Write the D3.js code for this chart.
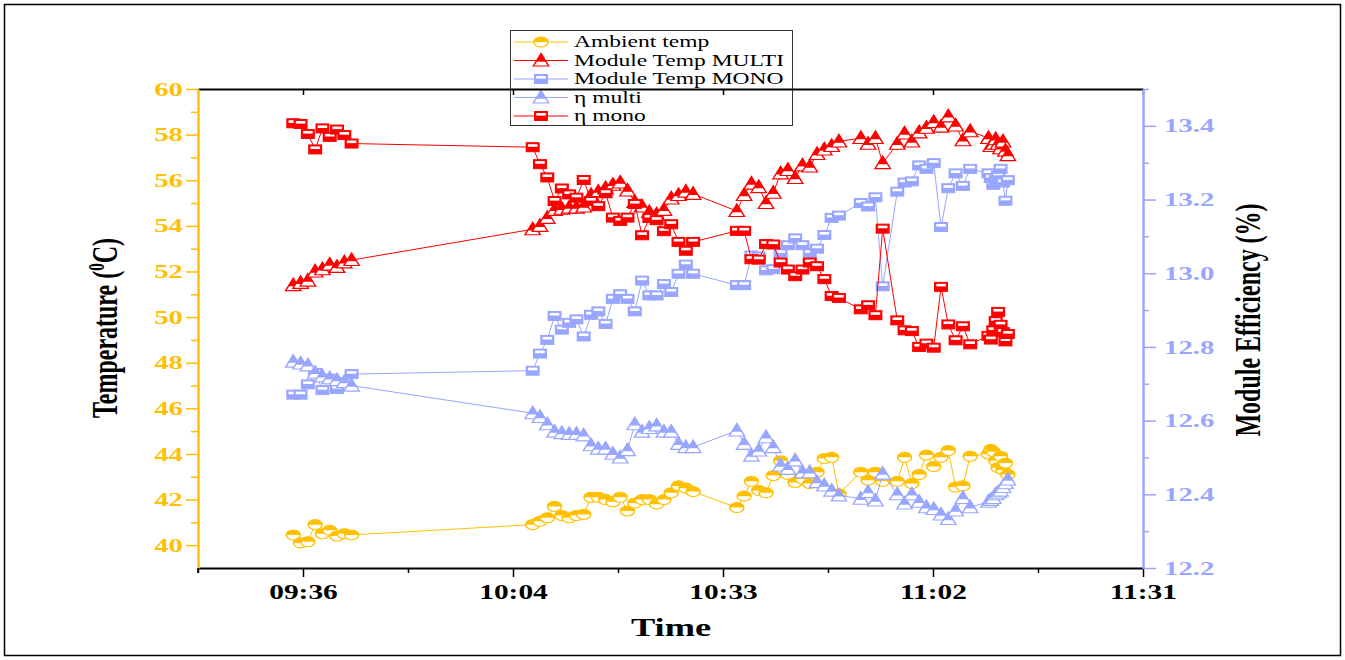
<!DOCTYPE html>
<html>
<head>
<meta charset="utf-8">
<script src="https://cdn.jsdelivr.net/npm/d3@7"></script>
<style>
  body { margin: 0; background: #fff; }
  svg { display: block; }
</style>
</head>
<body>
<div id="chart"></div>
<script>
// sample times (hh:mm:ss)
const times = [
  '09:34:40', '09:35:40', '09:36:40', '09:37:40', '09:38:40', '09:39:40', '09:40:40', '09:41:40', '09:42:40',
  '10:07:30', '10:08:30', '10:09:30', '10:10:30', '10:11:30', '10:12:30', '10:13:30', '10:14:30', '10:15:30',
  '10:16:30', '10:17:30', '10:18:30', '10:19:30', '10:20:30', '10:21:30', '10:22:30', '10:23:30', '10:24:30',
  '10:25:30', '10:26:30', '10:27:30', '10:28:30', '10:29:30',
  '10:35:30', '10:36:30', '10:37:30', '10:38:30', '10:39:30', '10:40:30', '10:41:30', '10:42:30', '10:43:30',
  '10:44:30', '10:45:30', '10:46:30', '10:47:30', '10:48:30', '10:49:30',
  '10:52:30', '10:53:30', '10:54:30', '10:55:30',
  '10:57:30', '10:58:30', '10:59:30', '11:00:30', '11:01:30', '11:02:30', '11:03:30', '11:04:30', '11:05:30',
  '11:06:30', '11:07:30',
  '11:10:00', '11:10:20', '11:10:40', '11:11:00', '11:11:20', '11:11:40', '11:12:00', '11:12:20', '11:12:40'
];

const ambientTemp = [
  40.45, 40.1, 40.15, 40.9, 40.5, 40.65, 40.4, 40.5, 40.45,
  40.9, 41.05, 41.2, 41.7, 41.3, 41.2, 41.3, 41.35, 42.1, 42.1, 42.0, 41.9, 42.1, 41.5, 41.85, 42.0, 42.0,
  41.8, 42.0, 42.3, 42.6, 42.5, 42.35,
  41.65, 42.15, 42.8, 42.4, 42.3, 43.05, 43.7, 43.1, 42.75, 42.9, 42.7, 43.2, 43.8, 43.85, 42.25,
  43.2, 42.85, 43.2, 42.8,
  42.8, 43.85, 42.7, 43.1, 43.95, 43.45, 43.85, 44.15, 42.55, 42.6, 43.9,
  44.0, 44.2, 44.1, 43.7, 43.4, 43.9, 43.3, 43.6, 43.1
];

const moduleTempMulti = [
  51.4, 51.5, 51.6, 52.0, 52.1, 52.3, 52.2, 52.4, 52.5,
  53.85, 54.0, 54.35, 54.7, 54.75, 54.8, 54.8, 54.85, 55.35, 55.5, 55.65, 55.8, 55.9, 55.55, 55.05, 54.85, 54.6,
  54.5, 54.7, 55.2, 55.35, 55.5, 55.4,
  54.65, 55.35, 55.85, 55.7, 55.0, 55.45, 56.3, 56.45, 56.1, 56.65, 56.6, 57.15, 57.35, 57.5, 57.7,
  57.85, 57.6, 57.85, 56.75,
  57.6, 58.05, 57.7, 58.1, 58.3, 58.55, 58.35, 58.8, 58.4, 57.75, 58.15,
  57.85, 57.5, 57.6, 57.8, 57.6, 57.4, 57.7, 57.3, 57.1
];

const moduleTempMono = [
  46.6, 46.6, 47.05, 47.55, 46.8, 47.3, 46.85, 47.15, 47.5,
  47.65, 48.4, 49.0, 50.05, 49.45, 49.75, 49.9, 49.15, 50.1, 50.25, 49.7, 50.8, 51.0, 50.8, 50.25, 51.6, 50.95,
  50.95, 51.45, 51.1, 51.9, 52.3, 51.9,
  51.4, 51.4, 52.7, 52.65, 52.05, 52.1, 52.8, 53.15, 53.45, 53.15, 52.8, 53.0, 53.6, 54.35, 54.45,
  55.0, 54.85, 55.25, 51.35,
  55.5, 55.9, 55.95, 56.65, 56.5, 56.75, 53.95, 55.65, 56.3, 55.75, 56.5,
  56.3, 56.1, 55.8, 56.0, 56.2, 56.5, 55.9, 55.1, 56.0
];

const etaMulti = [
  12.76, 12.755, 12.75, 12.73, 12.72, 12.715, 12.71, 12.705, 12.695,
  12.62, 12.61, 12.59, 12.57, 12.566, 12.564, 12.564, 12.56, 12.533, 12.524, 12.524, 12.51, 12.50, 12.52, 12.59,
  12.57, 12.58, 12.587, 12.57, 12.57, 12.537, 12.528, 12.528,
  12.573, 12.537, 12.505, 12.519, 12.555, 12.528, 12.478, 12.469, 12.492, 12.46, 12.46, 12.433, 12.424, 12.41, 12.397,
  12.388, 12.406, 12.383, 12.456,
  12.40, 12.375, 12.40, 12.38, 12.365, 12.36, 12.345, 12.333, 12.356, 12.39, 12.365,
  12.38, 12.385, 12.39, 12.40, 12.405, 12.41, 12.42, 12.43, 12.44
];

const etaMono = [
  13.407, 13.405, 13.378, 13.336, 13.393, 13.370, 13.390, 13.375, 13.352,
  13.342, 13.296, 13.26, 13.196, 13.23, 13.214, 13.205, 13.253, 13.196, 13.182, 13.217, 13.151, 13.142, 13.151,
  13.188, 13.103, 13.15, 13.144, 13.114, 13.133, 13.085, 13.061, 13.085,
  13.115, 13.115, 13.038, 13.037, 13.079, 13.078, 13.029, 13.01, 12.992, 13.01, 13.029, 13.019, 12.984, 12.938, 12.933,
  12.902, 12.913, 12.886, 13.121,
  12.872, 12.845, 12.843, 12.80, 12.809, 12.798, 12.963, 12.861, 12.818, 12.856, 12.807,
  12.83, 12.82, 12.845, 12.87, 12.895, 12.86, 12.84, 12.815, 12.835
];

// x axis ticks, in fractions of a day
const xTickDays = [0.40, 0.42, 0.44, 0.46, 0.48];
const xTickLabels = ['09:36', '10:04', '10:33', '11:02', '11:31'];
const xMinorDays = [0.39, 0.41, 0.43, 0.45, 0.47];
const leftTicks = [40, 42, 44, 46, 48, 50, 52, 54, 56, 58, 60];
const leftMinor = [41, 43, 45, 47, 49, 51, 53, 55, 57, 59];
const rightTicks = [12.2, 12.4, 12.6, 12.8, 13.0, 13.2, 13.4];
const rightMinor = [12.3, 12.5, 12.7, 12.9, 13.1, 13.3, 13.5];

const yellow = '#FFC000';
const blue = '#99A6FF';
const red = '#FF0000';
const fontFamily = '"Liberation Serif", "Times New Roman", serif';
const SX = 1.4; // the original figure is stretched sideways

const width = 1345;
const height = 660;
const plot = { left: 198, right: 1143, top: 89, bottom: 568 };

const toMinutes = s => {
  const [h, m, sec] = s.split(':').map(Number);
  return h * 60 + m + sec / 60;
};

const x = d3.scaleLinear()
  .domain([0.39 * 1440, 0.48 * 1440])
  .range([plot.left, plot.right]);
const yLeft = d3.scaleLinear().domain([39, 60]).range([plot.bottom, plot.top]);
const yRight = d3.scaleLinear().domain([12.2, 13.5]).range([plot.bottom, plot.top]);

const series = [
  { name: 'Ambient temp', values: ambientTemp, y: yLeft, color: yellow, marker: 'circle' },
  { name: 'Module Temp MULTI', values: moduleTempMulti, y: yLeft, color: red, marker: 'triangle' },
  { name: 'Module Temp MONO', values: moduleTempMono, y: yLeft, color: blue, marker: 'square' },
  { name: 'η multi', values: etaMulti, y: yRight, color: blue, marker: 'triangle' },
  { name: 'η mono', values: etaMono, y: yRight, color: red, marker: 'square' }
];

const svg = d3.select('#chart')
  .append('svg')
  .attr('width', width)
  .attr('height', height);

svg.append('rect')
  .attr('x', 4.5).attr('y', 4.5)
  .attr('width', width - 9).attr('height', height - 9)
  .attr('fill', 'none')
  .attr('stroke', '#000')
  .attr('stroke-width', 1.5);

// half filled markers, drawn in a local box then stretched
const drawMarker = (g, type, color) => {
  if (type === 'circle') {
    g.append('circle').attr('r', 5).attr('fill', '#fff');
    g.append('path').attr('d', 'M-5,0A5,5 0 0 1 5,0Z').attr('fill', color);
    g.append('circle').attr('r', 5).attr('fill', 'none')
      .attr('stroke', color).attr('stroke-width', 1.1);
  } else if (type === 'triangle') {
    g.append('path').attr('d', 'M0,-7L5.5,5.5L-5.5,5.5Z').attr('fill', '#fff')
      .attr('stroke', color).attr('stroke-width', 1.1).attr('stroke-linejoin', 'miter');
    g.append('path').attr('d', 'M0,-7L3.6,1.2L-3.6,1.2Z').attr('fill', color);
  } else {
    g.append('rect').attr('x', -4.5).attr('y', -4.5).attr('width', 9).attr('height', 9)
      .attr('fill', color).attr('stroke', color).attr('stroke-width', 1);
    g.append('rect').attr('x', -3.4).attr('y', -3).attr('width', 6.8).attr('height', 2.6)
      .attr('fill', '#fff');
  }
};

// legend
const legend = svg.append('g');
legend.append('rect')
  .attr('x', 510.5).attr('y', 30.5)
  .attr('width', 282).attr('height', 95)
  .attr('fill', 'none')
  .attr('stroke', '#333')
  .attr('stroke-width', 1);
const legendRowY = d3.scalePoint().domain(series.map(d => d.name)).range([42, 116]);
series.forEach(s => {
  const ly = legendRowY(s.name);
  legend.append('line')
    .attr('x1', 514).attr('x2', 568)
    .attr('y1', ly).attr('y2', ly)
    .attr('stroke', s.color).attr('stroke-width', 1);
  const mg = legend.append('g').attr('transform', `translate(541,${ly}) scale(${SX},1)`);
  drawMarker(mg, s.marker, s.color);
  legend.append('text')
    .attr('transform', `translate(574,${ly}) scale(1.47,1)`)
    .attr('dy', '0.34em')
    .style('font-family', fontFamily)
    .style('font-size', '16px')
    .text(s.name);
});

// axes
const xAxis = d3.axisBottom(x)
  .tickValues(xTickDays.map(d => d * 1440))
  .tickFormat((d, i) => xTickLabels[i])
  .tickSize(9)
  .tickSizeOuter(0);
const gx = svg.append('g').attr('transform', `translate(0,${plot.bottom})`).call(xAxis);
gx.select('.domain').attr('stroke', '#000').attr('stroke-width', 2);
gx.selectAll('.tick line').attr('stroke', '#000').attr('stroke-width', 1.5);
gx.selectAll('.tick text')
  .attr('y', 0)
  .attr('dy', 0)
  .attr('transform', `translate(0,31) scale(${SX},1)`)
  .attr('fill', '#000')
  .style('font-family', fontFamily)
  .style('font-size', '21px')
  .style('font-weight', 'bold');

svg.append('g')
  .attr('transform', `translate(0,${plot.bottom})`)
  .call(d3.axisBottom(x).tickValues(xMinorDays.map(d => d * 1440)).tickSize(5).tickFormat(''))
  .call(g => g.select('.domain').remove())
  .selectAll('.tick line').attr('stroke', '#000').attr('stroke-width', 1.5);

// top frame line with inward ticks
const gTop = svg.append('g').attr('transform', `translate(0,${plot.top})`)
  .call(d3.axisBottom(x).tickValues(xTickDays.map(d => d * 1440)).tickSize(6).tickSizeOuter(0).tickFormat(''));
gTop.select('.domain').attr('stroke', '#000').attr('stroke-width', 2);
gTop.selectAll('.tick line').attr('stroke', '#000').attr('stroke-width', 1.5);

const styleYAxis = (g, color, labelX, anchor) => {
  g.select('.domain').attr('stroke', color).attr('stroke-width', 2.5);
  g.selectAll('.tick line').attr('stroke', color).attr('stroke-width', 1.5);
  g.selectAll('.tick text')
    .attr('x', labelX / 1.6)
    .attr('dy', '0.34em')
    .attr('transform', 'scale(1.6,1)')
    .attr('text-anchor', anchor)
    .attr('fill', color)
    .style('font-family', fontFamily)
    .style('font-size', '18px')
    .style('font-weight', 'bold');
};

const gl = svg.append('g').attr('transform', `translate(${plot.left},0)`)
  .call(d3.axisLeft(yLeft).tickValues(leftTicks).tickSize(12).tickSizeOuter(0));
styleYAxis(gl, yellow, -15, 'end');
svg.append('g').attr('transform', `translate(${plot.left},0)`)
  .call(d3.axisLeft(yLeft).tickValues(leftMinor).tickSize(7).tickFormat(''))
  .call(g => g.select('.domain').remove())
  .selectAll('.tick line').attr('stroke', yellow).attr('stroke-width', 1.5);

const gr = svg.append('g').attr('transform', `translate(${plot.right},0)`)
  .call(d3.axisRight(yRight).tickValues(rightTicks).tickSize(13).tickSizeOuter(0)
    .tickFormat(d3.format('.1f')));
styleYAxis(gr, blue, 21, 'start');
svg.append('g').attr('transform', `translate(${plot.right},0)`)
  .call(d3.axisRight(yRight).tickValues(rightMinor).tickSize(6).tickFormat(''))
  .call(g => g.select('.domain').remove())
  .selectAll('.tick line').attr('stroke', blue).attr('stroke-width', 1.5);

// bottom-left corner tick
svg.append('line')
  .attr('x1', plot.left).attr('x2', plot.left)
  .attr('y1', plot.bottom).attr('y2', plot.bottom + 5)
  .attr('stroke', '#000').attr('stroke-width', 1.5);

// axis titles
svg.append('text')
  .attr('transform', `translate(671,636) scale(${SX},1)`)
  .attr('text-anchor', 'middle')
  .style('font-family', fontFamily)
  .style('font-size', '26px')
  .style('font-weight', 'bold')
  .text('Time');

const leftTitle = svg.append('text')
  .attr('transform', 'translate(117,328) scale(1.5,1) rotate(-90)')
  .attr('text-anchor', 'middle')
  .style('font-family', fontFamily)
  .style('font-size', '24px')
  .style('font-weight', 'bold');
leftTitle.append('tspan').text('Temperature (');
leftTitle.append('tspan').attr('dy', -9).style('font-size', '15px').text('0');
leftTitle.append('tspan').attr('dy', 9).text('C)');

svg.append('text')
  .attr('transform', 'translate(1260,320) scale(1.5,1) rotate(-90)')
  .attr('text-anchor', 'middle')
  .style('font-family', fontFamily)
  .style('font-size', '24px')
  .style('font-weight', 'bold')
  .text('Module Efficiency (%)');

// series
const points = series.map(s => s.values.map((v, i) => ({ t: toMinutes(times[i]), v })));
series.forEach((s, k) => {
  const line = d3.line().x(d => x(d.t)).y(d => s.y(d.v));
  const g = svg.append('g');
  g.append('path')
    .attr('d', line(points[k]))
    .attr('fill', 'none')
    .attr('stroke', s.color)
    .attr('stroke-width', 1);
  g.selectAll('g.marker')
    .data(points[k])
    .enter()
    .append('g')
    .attr('class', 'marker')
    .attr('transform', d => `translate(${x(d.t)},${s.y(d.v)}) scale(${SX},1)`)
    .each(function () { drawMarker(d3.select(this), s.marker, s.color); });
});
</script>
</body>
</html>
